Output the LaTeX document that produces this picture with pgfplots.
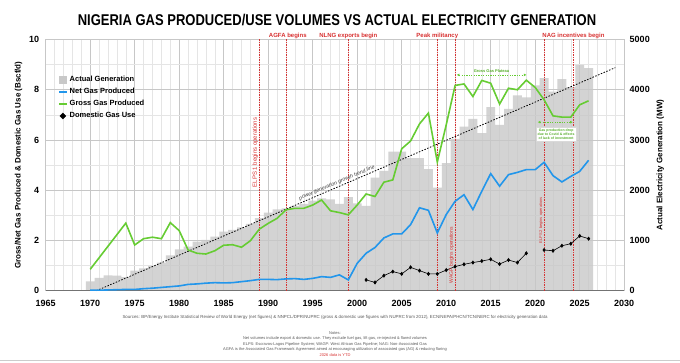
\documentclass[border=0pt]{standalone}
\usepackage{pgfplots}
\pgfplotsset{compat=1.18}
\usepackage{fontspec}
\setmainfont{Liberation Sans}
\usetikzlibrary{arrows.meta}
\definecolor{ggreen}{RGB}{102,204,51}
\definecolor{nblue}{RGB}{34,150,235}
\definecolor{vred}{RGB}{215,50,50}
\definecolor{bargray}{RGB}{200,200,200}
\pgfplotsset{
  common/.style={
    at={(45.7pt,72.3pt)}, anchor=south west,
    width=578.5pt, height=251.2pt, scale only axis,
    xmin=1965, xmax=2030,
    xtick={1965,1970,...,2030},
    major tick length=0pt, minor tick length=0pt,
    /pgf/number format/1000 sep={},
    /pgf/number format/assume math mode=true,
    tick label style={font=\bfseries\fontsize{9}{9}\selectfont},
    label style={font=\bfseries\fontsize{8}{8}\selectfont},
  },
  shortline/.style={legend image code/.code={\draw[line width=1.7pt,##1] (0pt,0pt) -- (7.5pt,0pt);}},
  sqbox/.style={legend image code/.code={\fill[##1] (0pt,-3.5pt) rectangle (7pt,3.5pt);}},
  diamimg/.style={legend image code/.code={\fill[##1] (3.5pt,3pt) -- (6.5pt,0pt) -- (3.5pt,-3pt) -- (0.5pt,0pt) -- cycle;}},
}
\begin{document}
\begin{tikzpicture}
\begin{axis}[common,
  ymin=0, ymax=5000, ytick={0,1000,...,5000},
  minor x tick num=4, minor y tick num=1,
  grid=both,
  major grid style={black!22, line width=0.5pt},
  minor grid style={black!10, line width=0.4pt},
  axis y line*=right, axis x line*=bottom,
  y axis line style={draw=none}, x axis line style={draw=none},
  xticklabels={},
  ylabel={Actual Electricity Generation (MW)},
  yticklabel style={xshift=2pt},
]
\addplot[ybar, bar width=1, fill=bargray, draw=none, fill opacity=0.8] coordinates {
(1970,187) (1971,253) (1972,306) (1973,300) (1974,270) (1975,399) (1976,446) (1977,492) (1978,558) (1979,705)
(1980,824) (1981,877) (1982,977) (1983,1010) (1984,1076) (1985,1176) (1986,1209) (1987,1262) (1988,1329) (1989,1442)
(1990,1554) (1991,1621) (1992,1641) (1993,1687) (1994,1727) (1995,1793) (1996,1840) (1997,1820) (1998,1727) (1999,1860)
(2000,1740) (2001,1690) (2002,2250) (2003,2385) (2004,2770) (2005,2770) (2006,2637) (2007,2637) (2008,2418) (2009,2052)
(2010,2537) (2011,3022) (2012,3267) (2013,3420) (2014,3134) (2015,3654) (2016,3300) (2017,3620) (2018,3886) (2019,3846)
(2020,4085) (2021,4231) (2022,3964) (2023,4211) (2024,4050) (2025,4497) (2026,4430)};
\end{axis}
\begin{axis}[common,
  ymin=0, ymax=10, ytick={0,2,...,10},
  axis y line*=left, axis x line*=bottom,
  y axis line style={draw=none},
  x axis line style={draw=black!55, line width=0.8pt},
  ylabel={Gross/Net Gas Produced \& Domestic Gas Use (Bscf/d)},
  yticklabel style={xshift=-3pt},
  xticklabel style={yshift=-6pt},
  clip=false,
  unbounded coords=jump,
  legend style={at={(axis description cs:0.02,0.867)}, anchor=north west, draw=none, fill=none,
    font=\bfseries\fontsize{7.5}{8}\selectfont, row sep=1.2pt, inner sep=1pt},
  legend cell align=left,
]
\addlegendimage{sqbox, bargray}
\addlegendentry{Actual Generation}
\addlegendimage{shortline, draw=nblue}
\addlegendentry{Net Gas Produced}
\addlegendimage{shortline, draw=ggreen}
\addlegendentry{Gross Gas Produced}
\addlegendimage{diamimg, black}
\addlegendentry{Domestic Gas Use}
% vertical event lines
\addplot[vred, line width=0.7pt, dash pattern=on 1.2pt off 1.3pt, forget plot] coordinates {(1989,0) (1989,10)};
\addplot[vred, line width=0.7pt, dash pattern=on 1.2pt off 1.3pt, forget plot] coordinates {(1992,0) (1992,10)};
\addplot[vred, line width=0.7pt, dash pattern=on 1.2pt off 1.3pt, forget plot] coordinates {(1999,0) (1999,10)};
\addplot[vred, line width=0.7pt, dash pattern=on 1.2pt off 1.3pt, forget plot] coordinates {(2009,0) (2009,10)};
\addplot[vred, line width=0.7pt, dash pattern=on 1.2pt off 1.3pt, forget plot] coordinates {(2011,0) (2011,10)};
\addplot[vred, line width=0.7pt, dash pattern=on 1.2pt off 1.3pt, forget plot] coordinates {(2021,0) (2021,10)};
\addplot[vred, line width=0.7pt, dash pattern=on 1.2pt off 1.3pt, forget plot] coordinates {(2024.3,0) (2024.3,10)};
% trend line
\addplot[black, line width=0.8pt, dash pattern=on 1.5pt off 1.5pt, forget plot] coordinates {(1970.7,0) (2029,8.88)};
% net gas
\addplot[nblue, line width=1.6pt, forget plot] coordinates {
(1970,0.02) (1971,0.02) (1972,0.03) (1973,0.04) (1974,0.05) (1975,0.05) (1976,0.08) (1977,0.10) (1978,0.13) (1979,0.16)
(1980,0.19) (1981,0.25) (1982,0.27) (1983,0.30) (1984,0.32) (1985,0.31) (1986,0.32) (1987,0.36) (1988,0.40) (1989,0.45)
(1990,0.45) (1991,0.44) (1992,0.47) (1993,0.48) (1994,0.45) (1995,0.49) (1996,0.56) (1997,0.53) (1998,0.63) (1999,0.43)
(2000,1.09) (2001,1.49) (2002,1.72) (2003,2.10) (2004,2.26) (2005,2.26) (2006,2.63) (2007,3.30) (2008,3.20) (2009,2.30)
(2010,3.03) (2011,3.56) (2012,3.82) (2013,3.23) (2014,3.96) (2015,4.66) (2016,4.16) (2017,4.62) (2018,4.71) (2019,4.82)
(2020,4.82) (2021,5.11) (2022,4.58) (2023,4.33) (2024,4.55) (2025,4.75) (2026,5.19)};
% gross gas
\addplot[ggreen, line width=1.6pt, forget plot] coordinates {
(1970,0.85) (1971,1.31) (1972,1.77) (1973,2.23) (1974,2.69) (1975,1.82) (1976,2.07) (1977,2.13) (1978,2.07) (1979,2.71)
(1980,2.39) (1981,1.62) (1982,1.49) (1983,1.46) (1984,1.59) (1985,1.81) (1986,1.83) (1987,1.73) (1988,1.99) (1989,2.45)
(1990,2.68) (1991,2.88) (1992,3.22) (1993,3.28) (1994,3.28) (1995,3.41) (1996,3.61) (1997,3.18) (1998,3.11) (1999,3.02)
(2000,3.41) (2001,3.85) (2002,3.75) (2003,4.32) (2004,4.41) (2005,5.65) (2006,5.96) (2007,6.64) (2008,7.07) (2009,5.12)
(2010,6.60) (2011,8.17) (2012,8.23) (2013,7.73) (2014,8.37) (2015,8.26) (2016,7.43) (2017,8.06) (2018,8.00) (2019,8.38)
(2020,8.09) (2021,7.60) (2022,6.96) (2023,6.91) (2024,6.91) (2025,7.40) (2026,7.56)};
% domestic gas use
\addplot[black, line width=0.6pt, mark=diamond*, mark size=1.6pt, forget plot] coordinates {
(2001,0.43) (2002,0.33) (2003,0.60) (2004,0.76) (2005,0.67) (2006,0.93) (2007,0.80) (2008,0.67) (2009,0.67)
(2010,0.82) (2011,0.96) (2012,1.05) (2013,1.12) (2014,1.18) (2015,1.25) (2016,1.06) (2017,1.22) (2018,1.12) (2019,1.49)
(2020,nan) (2021,1.62) (2022,1.59) (2023,1.79) (2024,1.87) (2025,2.18) (2026,2.07)};
% annotations
\tikzset{evlab/.style={text=vred, font=\bfseries\fontsize{6}{6}\selectfont, inner sep=1pt}}
\node[evlab, anchor=south] at (axis cs:1992.2,10) {AGFA begins};
\node[evlab, anchor=south] at (axis cs:1999,10) {NLNG exports begin};
\node[evlab, anchor=south] at (axis cs:2009,10) {Peak militancy};
\node[evlab, anchor=south] at (axis cs:2024.3,10) {NAG incentives begin};
\node[text=vred, font=\fontsize{6}{6}\selectfont, rotate=90, anchor=south, inner sep=1pt] at (axis cs:1989,5.5) {ELPS 1 begins operations};
\node[text=vred, font=\fontsize{5}{5}\selectfont, rotate=90, anchor=south, inner sep=1pt] at (axis cs:2011,1.42) {WAGP begins operations};
\node[text=vred, font=\fontsize{4}{4}\selectfont, rotate=90, anchor=south, inner sep=1pt] at (axis cs:2021,2.8) {ELPS 2 begins operations};
\node[text=black!75, font=\itshape\fontsize{5.3}{5.3}\selectfont, rotate=23, anchor=south, inner sep=1.5pt] at (axis cs:1997.9,4.14) {power generation growth trend line};
\draw[ggreen, line width=0.6pt, dash pattern=on 1.2pt off 1.2pt, {Triangle[length=2.5pt,width=2.5pt]}-{Triangle[length=2.5pt,width=2.5pt]}] (axis cs:2011.2,8.59) -- (axis cs:2019,8.59);
\node[text=ggreen!85!black, font=\bfseries\fontsize{4}{4}\selectfont, anchor=south, inner sep=1pt] at (axis cs:2015.1,8.62) {Gross Gas Plateau};
\draw[ggreen, line width=0.6pt, dash pattern=on 1.2pt off 1.2pt, {Triangle[length=2.5pt,width=2.5pt]}-{Triangle[length=2.5pt,width=2.5pt]}] (axis cs:2020.3,6.71) -- (axis cs:2024.2,6.71);
\node[fill=white, draw=black!15, line width=0.3pt, text=ggreen!85!black, font=\bfseries\fontsize{3.5}{4.3}\selectfont, align=center, inner sep=1.5pt] at (axis cs:2022.35,6.22) {Gas production drop\\due to Covid \& effects\\of lack of investment};
\end{axis}
\node[font=\bfseries\fontsize{13}{13}\selectfont] at (337pt,343pt) {\scalebox{1}[1.2]{NIGERIA GAS PRODUCED/USE VOLUMES VS ACTUAL ELECTRICITY GENERATION}};
\node[text=black!65, font=\fontsize{4.4}{5}\selectfont] at (335pt,45.5pt) {Sources: BP/Energy Institute Statistical Review of World Energy (net figures) \& NNPCL/DPR/NUPRC (gross \& domestic use figures with NUPRC from 2012), ECN/NEPA/PHCN/TCN/NERC for electricity generation data};
\node[text=black!65, font=\fontsize{4}{5.5}\selectfont, align=center, anchor=north] at (335pt,35pt) {Notes:\\Net volumes include export \& domestic use. They exclude fuel gas, lift gas, re-injected \& flared volumes\\ELPS: Escravos-Lagos Pipeline System; WAGP: West African Gas Pipeline; NAG: Non-Associated Gas\\AGFA is the Associated Gas Framework Agreement aimed at encouraging utilization of associated gas (AG) \& reducing flaring\\\textcolor{vred}{2026 data is YTD}};
\draw[black!20, line width=0.8pt] (0pt,3pt) -- (680pt,3pt);
\pgfresetboundingbox
\useasboundingbox (0pt,0pt) rectangle (680pt,363pt);
\end{tikzpicture}
\end{document}
